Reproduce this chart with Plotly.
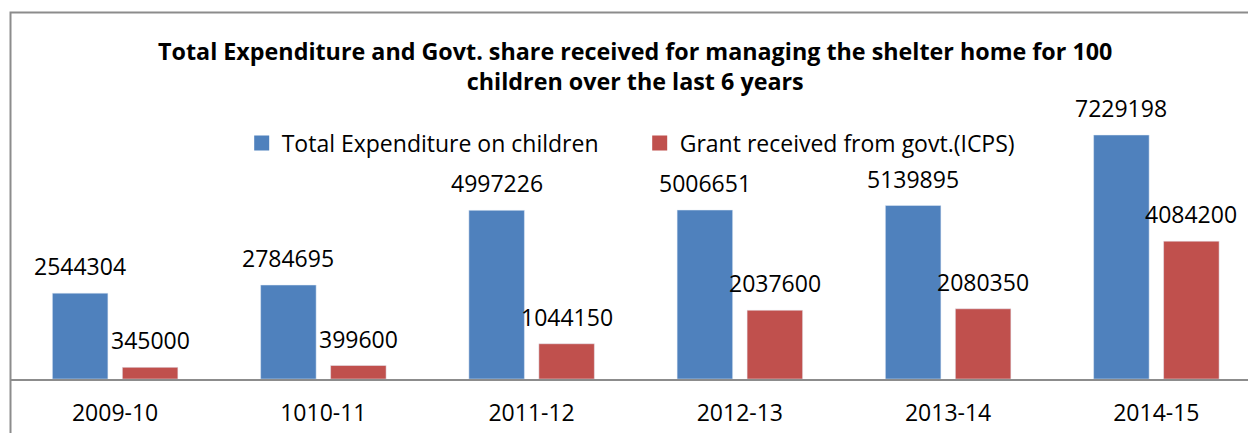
import plotly.graph_objects as go

years = ["2009-10", "1010-11", "2011-12", "2012-13", "2013-14", "2014-15"]
total_exp = [2544304, 2784695, 4997226, 5006651, 5139895, 7229198]
govt_grant = [345000, 399600, 1044150, 2037600, 2080350, 4084200]
series_names = ["Total Expenditure on children", "Grant received from govt.(ICPS)"]
title_text = ("Total Expenditure and Govt. share received for managing the shelter home for 100"
              "<br>children over the last 6 years")

BLUE = "#4F81BD"
RED = "#C0504D"
FONT = "Open Sans"

fig = go.Figure()
for vals, name, col in ((total_exp, series_names[0], BLUE), (govt_grant, series_names[1], RED)):
    fig.add_trace(go.Bar(x=years, y=vals, name=name, marker_color=col, showlegend=False))
    # legend-only entry so the square key can be bigger than the bar default
    fig.add_trace(go.Scatter(x=[None], y=[None], mode="markers", name=name,
                             marker=dict(symbol="square", size=15, color=col)))

# value labels above each bar, shifted to its half of the group
for vals, dx in ((total_exp, -35), (govt_grant, 35)):
    for yr, v in zip(years, vals):
        fig.add_annotation(x=yr, y=v, text=str(v), showarrow=False,
                           xshift=dx, yshift=9, yanchor="bottom",
                           font=dict(family=FONT, size=23, color="black"))

# chart frame (left and top edges visible)
fig.add_shape(type="rect", xref="paper", yref="paper",
              x0=-0.0004, x1=1.02, y0=-0.4, y1=1.357,
              line=dict(color="#8c8c8c", width=2), layer="below")

fig.update_layout(
    width=1248, height=433,
    margin=dict(l=11, r=0, t=109, b=54),
    paper_bgcolor="white", plot_bgcolor="white",
    barmode="group", bargap=0.328, bargroupgap=0.2065,
    title=dict(text=title_text, x=0.509, xref="container", xanchor="center",
               y=0.862, yref="container", yanchor="top",
               font=dict(family=FONT, size=23.3, color="black", weight="bold")),
    legend=dict(orientation="h", x=0.1865, xanchor="left", y=0.874, yanchor="middle",
                font=dict(family=FONT, size=23, color="black"), entrywidth=353),
    xaxis=dict(type="category", range=[-0.5, 5.44], showline=True,
               linecolor="#8c8c8c", linewidth=2, ticklabelstandoff=12,
               ticks="", tickfont=dict(family=FONT, size=23, color="black")),
    yaxis=dict(range=[0, 8000000], visible=False, showgrid=False),
)

fig.write_html("out.html", config={"displayModeBar": False},
               post_script="document.body.style.margin='0';")
